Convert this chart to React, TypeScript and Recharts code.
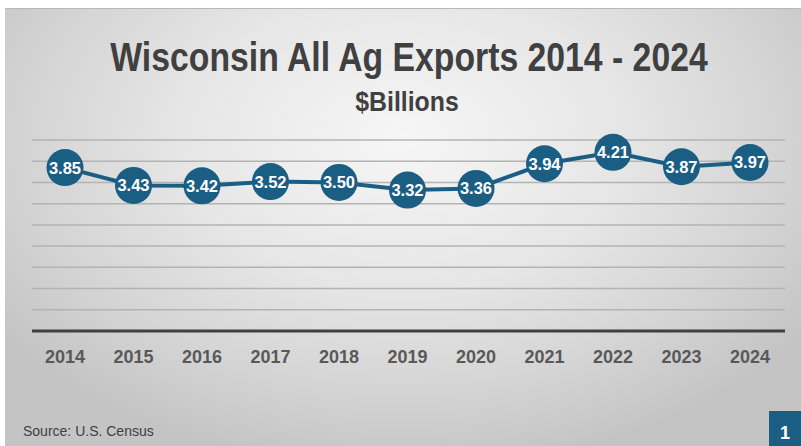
import { LineChart, Line, XAxis, YAxis, CartesianGrid } from 'recharts';

const years = ['2014', '2015', '2016', '2017', '2018', '2019', '2020', '2021', '2022', '2023', '2024'];
const exportsBillions = [3.85, 3.43, 3.42, 3.52, 3.5, 3.32, 3.36, 3.94, 4.21, 3.87, 3.97];
const yTicks = [0, 0.5, 1, 1.5, 2, 2.5, 3, 3.5, 4, 4.5];

const data = years.map((year, i) => ({ year, value: exportsBillions[i] }));

const BLUE = '#1b5e84';
const DARK = '#404040';
const SANS = "'Liberation Sans', Arial, sans-serif";

function BubbleDot(props: any) {
  const { cx, cy, value, index } = props;
  if (cx == null || cy == null) return null;
  return (
    <g key={`dot-${index}`}>
      <circle cx={cx} cy={cy} r={18.5} fill={BLUE} />
      <text x={cx} y={cy} dy={6} textAnchor="middle" fill="#ffffff" fontSize={16.5} fontWeight={700} fontFamily={SANS}>
        {Number(value).toFixed(2)}
      </text>
    </g>
  );
}

export default function App() {
  return (
    <div style={{ position: 'absolute', left: 0, top: 0, width: 801, height: 446, background: '#ffffff', overflow: 'hidden' }}>
      {/* slide background */}
      <div
        style={{
          position: 'absolute',
          left: 5,
          top: 8,
          width: 796,
          height: 438,
          borderTop: '1px solid #b8b8b8',
          background:
            'radial-gradient(ellipse 62% 75% at 50% 30%, #f6f6f6 0%, #e6e6e6 45%, #d2d2d2 80%, #c4c4c4 100%)',
        }}
      />
      <svg width={801} height={446} style={{ position: 'absolute', left: 0, top: 0 }}>
        <g transform="translate(409 71) scale(0.844 1)">
          <text x={0} y={0} textAnchor="middle" fill={DARK} fontSize={40} fontWeight={700} fontFamily={SANS}>
            Wisconsin All Ag Exports 2014 - 2024
          </text>
        </g>
        <g transform="translate(407 111) scale(0.92 1)">
          <text x={0} y={0} textAnchor="middle" fill={DARK} fontSize={27} fontWeight={700} fontFamily={SANS}>
            $Billions
          </text>
        </g>
        <text x={23} y={436} fill={DARK} fontSize={14} fontFamily={SANS}>
          Source: U.S. Census
        </text>
        <rect x={769} y={411} width={32} height={35} fill={BLUE} />
        <text x={785} y={439} textAnchor="middle" fill="#ffffff" fontSize={18} fontWeight={700} fontFamily={SANS}>
          1
        </text>
      </svg>
      <div style={{ position: 'absolute', left: 0, top: 0 }}>
        <LineChart width={801} height={446} data={data} margin={{ top: 140, right: 16, bottom: 85, left: 32 }}>
          <CartesianGrid horizontal vertical={false} stroke="#b3b3b3" strokeWidth={1.5} />
          <YAxis hide domain={[0, 4.5]} ticks={yTicks} interval={0} />
          <XAxis
            dataKey="year"
            tickLine={false}
            tickSize={0}
            tickMargin={19}
            height={30}
            padding={{ left: 33, right: 35 }}
            axisLine={{ stroke: DARK, strokeWidth: 3 }}
            tick={{ fill: '#595959', fontSize: 18, fontWeight: 700, fontFamily: SANS }}
          />
          <Line
            type="linear"
            dataKey="value"
            stroke={BLUE}
            strokeWidth={4}
            dot={(p: any) => <BubbleDot {...p} key={`d-${p.index}`} />}
            activeDot={false}
            isAnimationActive={false}
          />
        </LineChart>
      </div>
    </div>
  );
}
